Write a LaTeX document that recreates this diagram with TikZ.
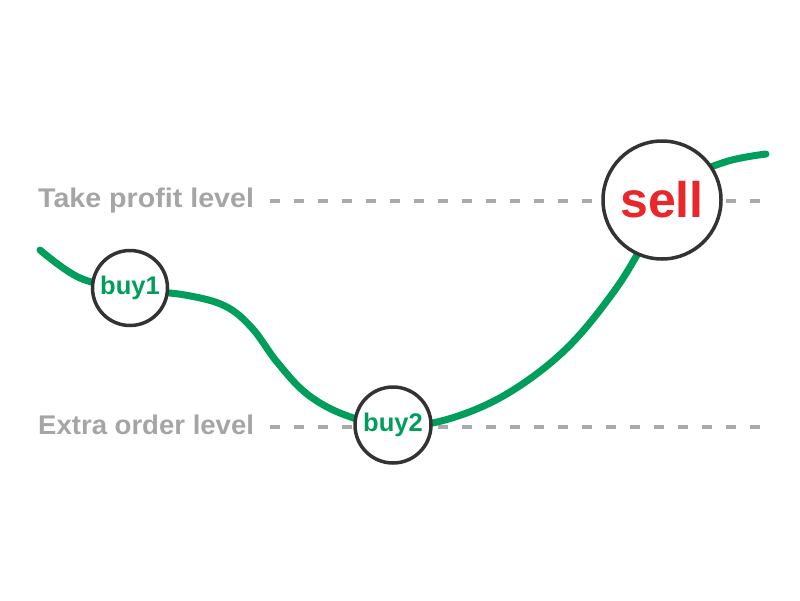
\documentclass[tikz,border=0pt]{standalone}
\usepackage{fontspec}
\setmainfont{Liberation Sans}
\definecolor{lgreen}{HTML}{009E5B}
\definecolor{lgray}{HTML}{AAAAAA}
\definecolor{tgray}{HTML}{A5A5A5}
\definecolor{cdark}{HTML}{333333}
\definecolor{lred}{HTML}{E8262B}
\begin{document}
\begin{tikzpicture}[x=1pt,y=-1pt,
  levelline/.style={draw=lgray, line width=3.5pt, dash pattern=on 10pt off 14pt},
  leveltext/.style={anchor=base west, text=tgray, font=\fontsize{27}{30}\selectfont\bfseries, inner sep=0pt},
  pricecurve/.style={draw=lgreen, line width=7pt, line cap=round},
  orderbox/.style={circle, draw=cdark, fill=white, line width=3.5pt, inner sep=0pt, text=lgreen, font=\fontsize{25.5}{28}\selectfont\bfseries},
  sellbox/.style={orderbox, text=lred, font=\fontsize{50}{56}\selectfont\bfseries}]
\useasboundingbox (0,0) rectangle (800,600);
\node[leveltext] (tp) at (38,207) {\scalebox{1.06}[1]{Take profit level}};
\node[leveltext] (eo) at (38,434) {\scalebox{1.02}[1]{Extra order level}};
\coordinate (tpS) at (270,201);
\coordinate (tpE) at (762,201);
\coordinate (eoS) at (270,427);
\coordinate (eoE) at (762,427);
\draw[levelline] (tpS) -- (tpE);
\draw[levelline] (eoS) -- (eoE);
\draw[pricecurve] plot[smooth, tension=0.6] coordinates {(40,250) (80,278) (130,289) (185,295) (225,306) (252,328) (277,362) (307,394) (345,415) (393,426) (445,420) (505,395) (565,350) (615,290) (652,230) (685,182) (725,162) (766,154)};
\node[orderbox, minimum size=75pt] (b1) at (130,288) {buy1};
\node[orderbox, minimum size=76pt] (b2) at (393,425) {buy2};
\node[sellbox, minimum size=118pt] (s) at (662,200) {sell};
\end{tikzpicture}
\end{document}
